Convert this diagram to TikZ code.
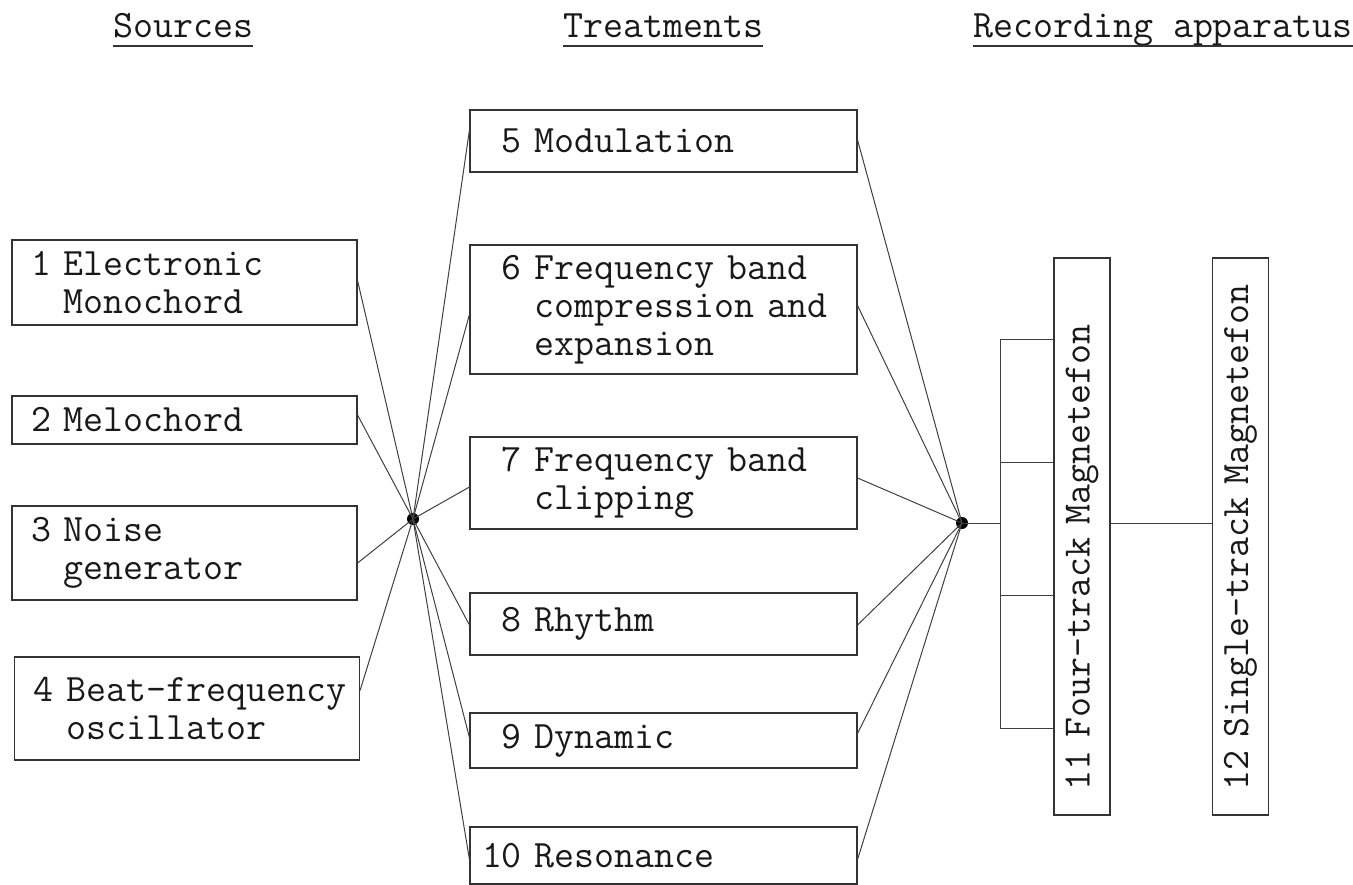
\documentclass[tikz,border=0pt]{standalone}
\usepackage{fontspec}
\begin{document}
\begin{tikzpicture}[x=1pt,y=-1pt,
  every node/.style={font=\ttfamily\fontsize{38.8}{38}\selectfont, text=black!90},
  box/.style={draw=black!80, line width=1.1pt, rectangle, align=left, inner ysep=4pt},
  src/.style={box, inner xsep=19pt, text width=307pt, minimum width=345pt},
  trt/.style={box, inner xsep=12pt, text width=363pt, minimum width=387pt},
  rec/.style={box, rotate=90, inner xsep=25pt, text width=507pt, minimum width=557pt, minimum height=56pt, inner ysep=0pt},
  wire/.style={draw=black!75, line width=1pt},
  hub/.style={circle, fill=black, inner sep=0pt, minimum size=12pt},
  head/.style={inner sep=0pt, anchor=base west},
  ul/.style={draw=black!80, line width=2pt}]
\useasboundingbox (0,0) rectangle (1353,885);

% headings
\node[head] (hs) at (113,38) {Sources};
\node[head] (ht) at (563,38) {Treatments};
\node[head] (hr) at (973,38) {Recording apparatus};
\foreach \h in {hs,ht,hr}{
  \draw[ul] ([yshift=-8pt]\h.base west) -- ([yshift=-8pt]\h.base east);
}

% sources
\node[src, minimum height=85pt] (s1) at (184.5,282.5) {\mbox{1 Electronic}\\\mbox{\hphantom{1 }Monochord}};
\node[src, minimum height=48pt] (s2) at (184.5,420) {\mbox{2 Melochord}};
\node[src, minimum height=94pt] (s3) at (184.5,553) {\mbox{3 Noise}\\\mbox{\hphantom{3 }generator}};
\node[src, minimum height=103pt] (s4) at (187,708.5) {\mbox{4 Beat-frequency}\\\mbox{\hphantom{4 }oscillator}};

% treatments
\node[trt, minimum height=62pt] (t5) at (663.5,141) {\mbox{\hphantom{1}5 Modulation}};
\node[trt, minimum height=129pt] (t6) at (663.5,309.5) {\mbox{\hphantom{1}6 Frequency band}\\\mbox{\hphantom{10 }compression and}\\\mbox{\hphantom{10 }expansion}};
\node[trt, minimum height=92pt] (t7) at (663.5,483) {\mbox{\hphantom{1}7 Frequency band}\\\mbox{\hphantom{10 }clipping}};
\node[trt, minimum height=62pt] (t8) at (663.5,624) {\mbox{\hphantom{1}8 Rhythm}};
\node[trt, minimum height=55pt] (t9) at (663.5,740.5) {\mbox{\hphantom{1}9 Dynamic}};
\node[trt, minimum height=57pt] (t10) at (663.5,855.5) {\mbox{10 Resonance}};

% recording apparatus
\node[rec] (m11) at (1082,536.5) {\mbox{11 Four-track Magnetefon}};
\node[rec] (m12) at (1240.5,536.5) {\mbox{12 Single-track Magnetefon}};

% hubs
\node[hub] (h1) at (413,519) {};
\node[hub] (h2) at (962,523) {};

% sources to hub 1
\draw[wire] ([yshift=2pt]s1.east) -- (h1.center);
\draw[wire] ([yshift=5pt]s2.east) -- (h1.center);
\draw[wire] ([yshift=-10pt]s3.east) -- (h1.center);
\draw[wire] ([yshift=18pt]s4.east) -- (h1.center);

% hub 1 to treatments
\draw[wire] (h1.center) -- ([yshift=11pt]t5.west);
\draw[wire] (h1.center) -- ([yshift=-5pt]t6.west);
\draw[wire] (h1.center) -- ([yshift=-4pt]t7.west);
\draw[wire] (h1.center) -- ([yshift=-1pt]t8.west);
\draw[wire] (h1.center) -- ([yshift=3pt]t9.west);
\draw[wire] (h1.center) -- ([yshift=-4pt]t10.west);

% treatments to hub 2
\draw[wire] ([yshift=1pt]t5.east) -- (h2.center);
\draw[wire] ([yshift=4pt]t6.east) -- (h2.center);
\draw[wire] ([yshift=5pt]t7.east) -- (h2.center);
\draw[wire] ([yshift=-1pt]t8.east) -- (h2.center);
\draw[wire] ([yshift=7pt]t9.east) -- (h2.center);
\draw[wire] ([yshift=-4pt]t10.east) -- (h2.center);

% bracket to four-track
\coordinate (b0) at (1000,523);
\coordinate (bt) at (1000,340);
\coordinate (b2) at (1000,462);
\coordinate (b3) at (1000,595);
\coordinate (bb) at (1000,728);
\draw[wire] (h2.center) -- (b0);
\draw[wire] (m11.north |- bt) -- (bt) -- (bb) -- (m11.north |- bb);
\draw[wire] (b2) -- (m11.north |- b2);
\draw[wire] (b3) -- (m11.north |- b3);

% four-track to single-track
\draw[wire] (m11.south |- h2) -- (m12.north |- h2);
\end{tikzpicture}
\end{document}
